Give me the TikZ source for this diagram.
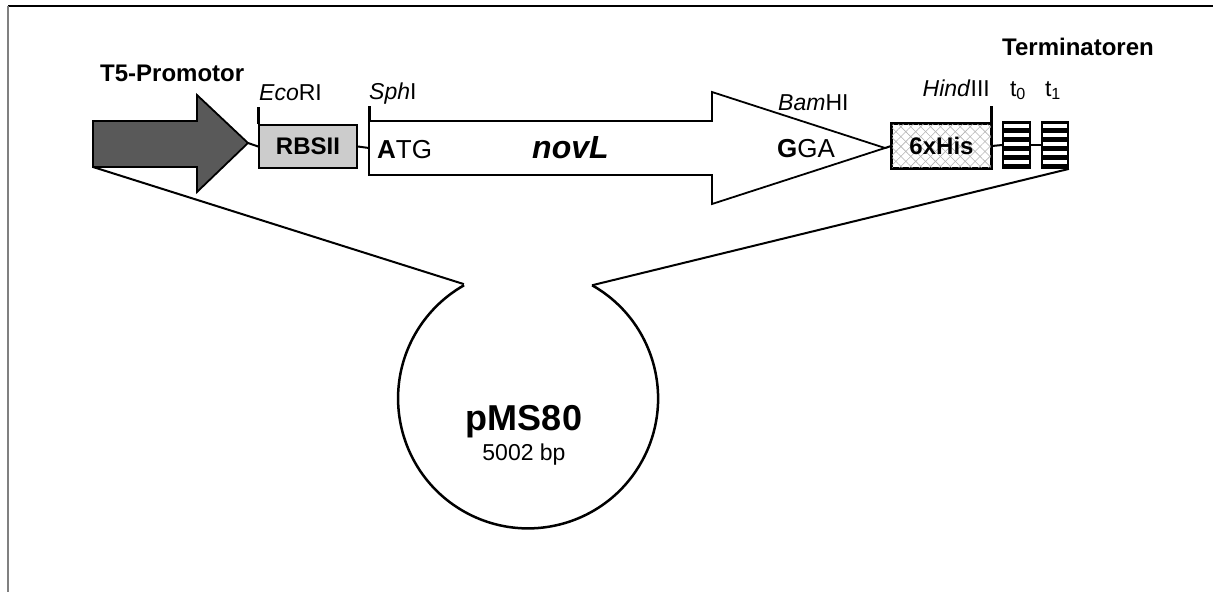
\documentclass[tikz,border=0pt]{standalone}
\usepackage{fontspec}
\setmainfont{Liberation Sans}
\usetikzlibrary{patterns.meta}

\begin{document}
\begin{tikzpicture}[x=1pt, y=-1pt, line join=miter,
    part/.style={draw, line width=1.8pt, inner sep=0pt},
    cut/.style={line width=3pt},
    site/.style={inner sep=0pt, font=\fontsize{23}{26}\selectfont},
    lab/.style={inner sep=0pt, font=\fontsize{24}{28}\selectfont\bfseries}]
    \useasboundingbox (0,0) rectangle (1213,592);
    \draw[line width=1.5pt] (8,6) -- (1213,6);
    \draw[line width=2.5pt, gray] (8,6) -- (8,592);

    % promoter
    \draw[part, fill=black!65] (93,121) -- (197,121) -- (197,95) -- (248,143)
        -- (197,192) -- (197,167) -- (93,167) -- cycle;
    \coordinate (promtip) at (248,143);
    \coordinate (promfoot) at (93,167);
    \node[lab, anchor=base west] (prom) at (100,81) {T5-Promotor};

    \node[part, fill=black!20, minimum width=98, minimum height=43] (rbs) at (308,146.5) {};
    \node[lab] at (rbs) {RBSII};

    % novL gene
    \draw[part, fill=white] (369,121) -- (712,121) -- (712,92) -- (885,148)
        -- (712,204) -- (712,175) -- (369,175) -- cycle;
    \coordinate (novtail) at (369,148);
    \coordinate (novtip) at (885,148);
    \node[inner sep=0pt, anchor=base west, font=\fontsize{26}{30}\selectfont] (atg) at (377,158) {\textbf{A}TG};
    \node[inner sep=0pt, anchor=base west, font=\fontsize{32}{36}\selectfont\bfseries\itshape] (novl) at (532,158) {novL};
    \node[inner sep=0pt, anchor=base west, font=\fontsize{26}{30}\selectfont] (gga) at (777,157) {\textbf{G}GA};

    \node[part, minimum width=99, minimum height=44] (his) at (941.5,146) {};
    \fill[pattern={Lines[angle=45, distance=7pt, line width=0.6pt]}, pattern color=black!30]
        (his.north west) rectangle (his.south east);
    \fill[pattern={Lines[angle=-45, distance=7pt, line width=0.6pt]}, pattern color=black!30]
        (his.north west) rectangle (his.south east);
    \draw[line width=1.8pt] (his.north west) rectangle (his.south east);
    \node[lab] at (his) {6xHis};

    % terminators
    \node[part, fill=black, minimum width=27, minimum height=46] (t0) at (1016.5,145) {};
    \node[part, fill=black, minimum width=26, minimum height=46] (t1) at (1055,145) {};
    \foreach \t in {t0,t1}
        \foreach \i in {0,...,4}
            \fill[white] ([xshift=1.5pt, yshift=-3-9*\i]\t.north west) rectangle ([xshift=-1.5pt, yshift=-6.5-9*\i]\t.north east);

    \draw[line width=2pt] (promtip) -- (rbs.west);
    \draw[line width=2pt] (rbs.east) -- (novtail);
    \draw[line width=2pt] (novtip) -- (his.west);
    \draw[line width=2pt] (his.east) -- (t0.west);
    \draw[line width=2pt] (t0.east) -- (t1.west);

    % restriction sites
    \draw[cut] (rbs.north west) -- ++(0,-17);
    \draw[cut] (369,121) -- ++(0,-15);
    \draw[cut] (his.north east) -- ++(0,-17);
    \node[site, anchor=base west] (eco) at (259,100) {\textit{Eco}RI};
    \node[site, anchor=base west] (sph) at (369,99) {\textit{Sph}I};
    \node[site, anchor=base west] (bam) at (778,110) {\textit{Bam}HI};
    \node[site, anchor=base east] (hind) at (990,96) {\textit{Hind}III};
    \node[site, anchor=base] (lt0) at (1018,96) {t\textsubscript{0}};
    \node[site, anchor=base] (lt1) at (1053,96) {t\textsubscript{1}};
    \node[lab, anchor=base west] (term) at (1002,55) {Terminatoren};

    % plasmid
    \node[circle, minimum size=260, inner sep=0pt] (pms) at (527,398) {};
    \draw[line width=2.5pt] (pms.60.5) arc[start angle=-60.5, end angle=240.5, radius=130];
    \draw[line width=2pt] (promfoot) -- (pms.119.5);
    \draw[line width=2pt] (t1.south east) -- (pms.60.5);
    \node[inner sep=0pt, anchor=base, font=\fontsize{36}{40}\selectfont\bfseries] (name) at (524,430) {pMS80};
    \node[site, anchor=base] (size) at (524,460) {5002 bp};
\end{tikzpicture}
\end{document}
